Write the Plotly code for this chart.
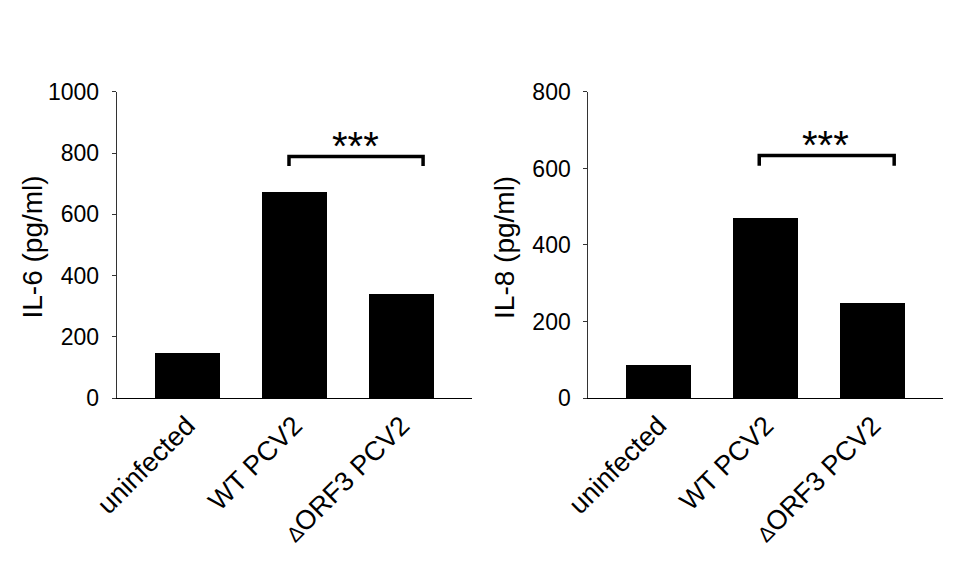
import plotly.graph_objects as go
from plotly.subplots import make_subplots

categories = ["uninfected", "WT PCV2", "ΔORF3 PCV2"]
il6_values = [146, 674, 341]
il8_values = [87, 471, 249]

il6_ticks = [0, 200, 400, 600, 800, 1000]
il8_ticks = [0, 200, 400, 600, 800]

# significance brackets (category positions, values)
il6_bracket_x = [0.95, 0.95, 2.2, 2.2]
il6_bracket_y = [758, 789, 789, 758]
il8_bracket_x = [0.94, 0.94, 2.2, 2.2]
il8_bracket_y = [607, 634, 634, 607]
sig_label = "***"
il6_sig_pos = (1.57, 824)
il8_sig_pos = (1.56, 662)

FONT = "Liberation Sans, Arial, sans-serif"

# slightly smaller delta glyph, as in the original figure
tick_text = [c.replace("Δ", "<span style='font-size:21px'>Δ</span>") for c in categories]

fig = make_subplots(rows=1, cols=2)

xidx = list(range(len(categories)))
fig.add_trace(go.Bar(x=xidx, y=il6_values, width=0.605, marker=dict(color="black", line=dict(width=0)),
                     showlegend=False), row=1, col=1)
fig.add_trace(go.Bar(x=xidx, y=il8_values, width=0.605, marker=dict(color="black", line=dict(width=0)),
                     showlegend=False), row=1, col=2)

fig.add_trace(go.Scatter(x=il6_bracket_x, y=il6_bracket_y, mode="lines",
                         line=dict(color="black", width=3.5), showlegend=False,
                         hoverinfo="skip"), row=1, col=1)
fig.add_trace(go.Scatter(x=il8_bracket_x, y=il8_bracket_y, mode="lines",
                         line=dict(color="black", width=3.5), showlegend=False,
                         hoverinfo="skip"), row=1, col=2)

xcommon = dict(tickmode="array", tickvals=xidx, ticktext=tick_text, tickangle=-45,
               range=[-0.656, 2.656], showline=True, linecolor="black", linewidth=1,
               ticks="", showgrid=False, zeroline=False, automargin=False,
               tickfont=dict(family=FONT, size=27, color="black"))
ycommon = dict(showline=True, linecolor="#333333", linewidth=1, ticks="outside", ticklen=4,
               tickcolor="#333333", showgrid=False, zeroline=False, automargin=False,
               tickfont=dict(family=FONT, size=23, color="black"), ticklabelstandoff=8)

fig.update_layout(
    template="none",
    width=976, height=576,
    margin=dict(l=0, r=0, t=0, b=0, autoexpand=False),
    plot_bgcolor="white", paper_bgcolor="white",
    bargap=0,
    xaxis=dict(domain=[0.1196, 0.4836], **xcommon),
    xaxis2=dict(domain=[0.6028, 0.9662], **xcommon),
    yaxis=dict(domain=[0.309, 0.8403], range=[0, 1000], tickvals=il6_ticks, **ycommon),
    yaxis2=dict(domain=[0.309, 0.8403], range=[0, 800], tickvals=il8_ticks, **ycommon),
)

fig.add_annotation(x=il6_sig_pos[0], y=il6_sig_pos[1], xref="x", yref="y", text=sig_label,
                   showarrow=False, font=dict(family=FONT, size=40, color="black"))
fig.add_annotation(x=il8_sig_pos[0], y=il8_sig_pos[1], xref="x2", yref="y2", text=sig_label,
                   showarrow=False, font=dict(family=FONT, size=40, color="black"))

fig.add_annotation(x=33 / 976, y=0.5703, xref="paper", yref="paper", text="IL-6 (pg/ml)",
                   textangle=-90, showarrow=False, xanchor="center", yanchor="middle",
                   font=dict(family=FONT, size=28, color="black"))
fig.add_annotation(x=505 / 976, y=0.5695, xref="paper", yref="paper", text="IL-8 (pg/ml)",
                   textangle=-90, showarrow=False, xanchor="center", yanchor="middle",
                   font=dict(family=FONT, size=28, color="black"))

fig.write_html("out.html")
